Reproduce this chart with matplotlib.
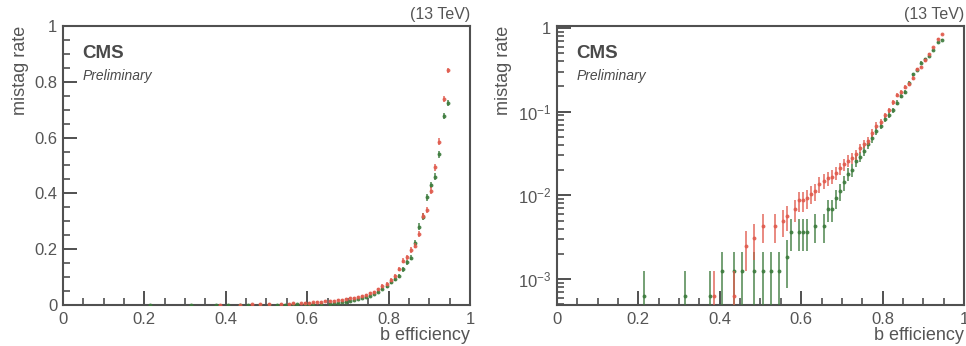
"""
b-tag mistag rate vs b efficiency, linear and log panels.
"""
import matplotlib
matplotlib.use('Agg')
import matplotlib.pyplot as plt
from matplotlib.ticker import MultipleLocator, FixedLocator, FixedFormatter, LogLocator, NullFormatter

plt.rcParams['font.family'] = ['Liberation Sans', 'DejaVu Sans']
plt.rcParams['mathtext.default'] = 'regular'

# green series
eff_green = [0.215, 0.315, 0.375, 0.405, 0.435, 0.455, 0.485, 0.505, 0.525, 0.545,
             0.565, 0.575, 0.595, 0.605, 0.615, 0.635, 0.655, 0.665, 0.675, 0.685,
             0.695, 0.705, 0.715, 0.725, 0.735, 0.745, 0.755, 0.765, 0.775, 0.785,
             0.795, 0.805, 0.815, 0.825, 0.835, 0.845, 0.855, 0.865, 0.875, 0.885,
             0.895, 0.905, 0.915, 0.925, 0.935, 0.945]
mis_green = [6.2e-4, 6.2e-4, 6.2e-4, 1.24e-3, 1.24e-3, 1.24e-3, 1.24e-3, 1.24e-3, 1.24e-3, 1.24e-3,
             1.86e-3, 3.7e-3, 3.7e-3, 3.7e-3, 3.7e-3, 4.3e-3, 4.3e-3, 6.8e-3, 6.8e-3, 9.3e-3,
             1.12e-2, 1.43e-2, 1.8e-2, 2.0e-2, 2.6e-2, 2.9e-2, 3.4e-2, 4.1e-2, 4.8e-2, 5.9e-2,
             6.8e-2, 8.2e-2, 9.2e-2, 0.104, 0.128, 0.153, 0.170, 0.221, 0.281, 0.317,
             0.386, 0.430, 0.460, 0.540, 0.677, 0.723]
err_green = [6.2e-4, 6.2e-4, 6.2e-4, 8.8e-4, 8.8e-4, 8.8e-4, 8.8e-4, 8.8e-4, 8.8e-4, 8.8e-4,
             1.07e-3, 1.51e-3, 1.51e-3, 1.51e-3, 1.51e-3, 1.63e-3, 1.63e-3, 2.05e-3, 2.05e-3, 2.4e-3,
             2.63e-3, 2.97e-3, 3.33e-3, 3.5e-3, 4.0e-3, 4.2e-3, 4.5e-3, 4.9e-3, 5.3e-3, 5.9e-3,
             6.3e-3, 6.8e-3, 7.2e-3, 7.6e-3, 8.3e-3, 9.0e-3, 9.3e-3, 1.03e-2, 1.12e-2, 1.16e-2,
             1.21e-2, 1.23e-2, 1.24e-2, 1.24e-2, 1.16e-2, 1.11e-2]

# red series
eff_red = [0.385, 0.435, 0.465, 0.485, 0.505, 0.535, 0.555, 0.565, 0.585, 0.595,
           0.605, 0.615, 0.625, 0.635, 0.645, 0.655, 0.665, 0.675, 0.685, 0.695,
           0.705, 0.715, 0.725, 0.735, 0.745, 0.755, 0.765, 0.775, 0.785, 0.795,
           0.805, 0.815, 0.825, 0.835, 0.845, 0.855, 0.865, 0.875, 0.885, 0.895,
           0.905, 0.915, 0.925, 0.935, 0.945]
mis_red = [6.2e-4, 6.2e-4, 2.48e-3, 3.1e-3, 4.3e-3, 4.3e-3, 4.96e-3, 5.6e-3, 6.8e-3, 8.7e-3,
           8.7e-3, 9.3e-3, 1.05e-2, 1.12e-2, 1.36e-2, 1.49e-2, 1.6e-2, 1.67e-2, 1.86e-2, 2.1e-2,
           2.36e-2, 2.6e-2, 2.8e-2, 3.1e-2, 3.65e-2, 4.15e-2, 4.5e-2, 5.6e-2, 6.8e-2, 7.5e-2,
           0.090, 0.104, 0.129, 0.158, 0.171, 0.197, 0.213, 0.253, 0.319, 0.340,
           0.409, 0.493, 0.585, 0.738, 0.842]
err_red = [6.2e-4, 6.2e-4, 1.24e-3, 1.39e-3, 1.63e-3, 1.63e-3, 1.75e-3, 1.86e-3, 2.05e-3, 2.32e-3,
           2.32e-3, 2.4e-3, 2.55e-3, 2.63e-3, 2.9e-3, 3.04e-3, 3.15e-3, 3.2e-3, 3.4e-3, 3.6e-3,
           3.8e-3, 4.0e-3, 4.1e-3, 4.3e-3, 4.7e-3, 5.0e-3, 5.2e-3, 5.7e-3, 6.3e-3, 6.6e-3,
           7.1e-3, 7.6e-3, 8.3e-3, 9.1e-3, 9.4e-3, 9.9e-3, 1.02e-2, 1.08e-2, 1.16e-2, 1.18e-2,
           1.22e-2, 1.24e-2, 1.23e-2, 1.1e-2, 9.1e-3]

GREEN = '#3b7a3b'
RED = '#e05a4c'
TXT = '#555555'
AX = '#505050'

fig = plt.figure(figsize=(9.66, 3.46), dpi=100)
ax1 = fig.add_axes([0.0652, 0.1185, 0.4213, 0.8064])
ax2 = fig.add_axes([0.5766, 0.1185, 0.4213, 0.8064])


def draw(ax):
    ax.errorbar(eff_green, mis_green, yerr=err_green, fmt='o', ms=2.8, mew=0,
                color=GREEN, ecolor=GREEN, elinewidth=1.1, capsize=0, alpha=0.9, zorder=3)
    ax.errorbar(eff_red, mis_red, yerr=err_red, fmt='o', ms=2.8, mew=0,
                color=RED, ecolor=RED, elinewidth=1.1, capsize=0, alpha=0.9, zorder=4)


def style(ax):
    for s in ax.spines.values():
        s.set_color(AX)
        s.set_linewidth(1.5)
    ax.set_xlim(0, 1)
    ax.xaxis.set_major_locator(FixedLocator([0, 0.2, 0.4, 0.6, 0.8, 1.0]))
    ax.xaxis.set_major_formatter(FixedFormatter(['0', '0.2', '0.4', '0.6', '0.8', '1']))
    ax.xaxis.set_minor_locator(MultipleLocator(0.05))
    ax.tick_params(which='both', direction='in', top=False, right=False,
                   colors=AX, labelcolor=TXT, labelsize=12)
    ax.tick_params(which='major', length=10, width=1.4)
    ax.tick_params(which='minor', length=5, width=1.2)
    ax.tick_params(axis='x', pad=5)
    ax.tick_params(axis='y', pad=4)
    ax.set_xlabel('b efficiency', fontsize=13, color=TXT, loc='right', labelpad=0)
    ax.set_ylabel('mistag rate', fontsize=13, color=TXT, loc='top', labelpad=4)
    ax.text(0.047, 0.9, 'CMS', transform=ax.transAxes, fontsize=13.5,
            fontweight='bold', color='#4a4a4a', va='center', ha='left')
    ax.text(0.047, 0.82, 'Preliminary', transform=ax.transAxes, fontsize=10,
            style='italic', color='#4a4a4a', va='center', ha='left')
    ax.text(1.0, 1.016, '(13 TeV)', transform=ax.transAxes, fontsize=11.5,
            color=TXT, va='bottom', ha='right')


draw(ax1)
style(ax1)
ax1.set_ylim(0, 1)
ax1.yaxis.set_major_locator(FixedLocator([0, 0.2, 0.4, 0.6, 0.8, 1.0]))
ax1.yaxis.set_major_formatter(FixedFormatter(['0', '0.2', '0.4', '0.6', '0.8', '1']))
ax1.yaxis.set_minor_locator(MultipleLocator(0.05))

draw(ax2)
style(ax2)
ax2.set_yscale('log')
ax2.set_ylim(4.9e-4, 1.056)
ax2.yaxis.set_major_locator(FixedLocator([1e-3, 1e-2, 1e-1, 1]))
ax2.yaxis.set_major_formatter(FixedFormatter(['$10^{-3}$', '$10^{-2}$', '$10^{-1}$', '1']))
ax2.yaxis.set_minor_locator(LogLocator(base=10, subs=range(2, 10), numticks=20))
ax2.yaxis.set_minor_formatter(NullFormatter())

fig.savefig('out.png', dpi=100)
